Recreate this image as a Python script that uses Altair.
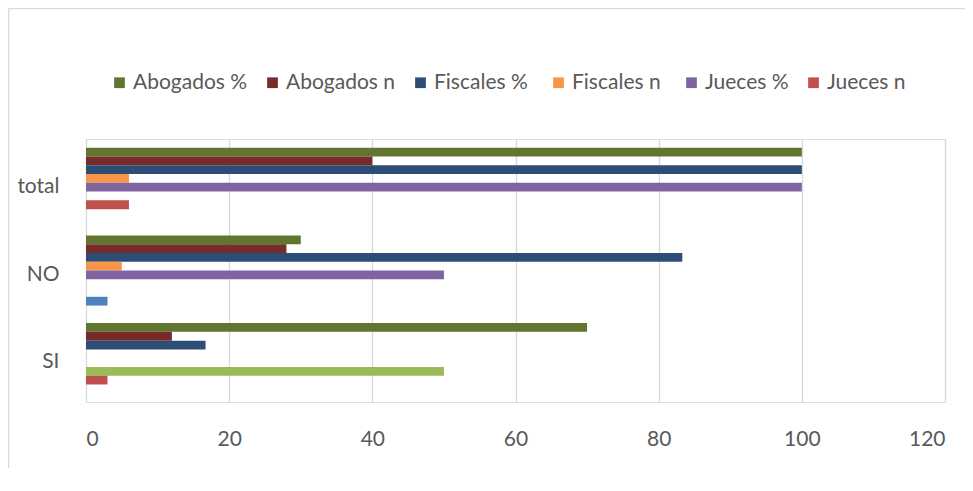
import altair as alt
import pandas as pd

categories = ["total", "NO", "SI"]

series_names = ["Abogados %", "Abogados n", "Fiscales  %", "Fiscales  n",
                "Jueces %", "Serie 6", "Jueces n", "Serie 8"]
legend_names = ["Abogados %", "Abogados n", "Fiscales  %", "Fiscales  n",
                "Jueces %", "Jueces n"]
colors = ["#5F7530", "#772C2A", "#2C4D75", "#F79646",
          "#8064A2", "#9BBB59", "#C0504D", "#4F81BD"]

abogados_pct = [100, 30, 70]
abogados_n = [40, 28, 12]
fiscales_pct = [100, 83.3, 16.7]
fiscales_n = [6, 5, None]
jueces_pct = [100, 50, None]
serie6 = [None, None, 50]
jueces_n = [6, None, 3]
serie8 = [None, 3, None]

series_values = [abogados_pct, abogados_n, fiscales_pct, fiscales_n,
                 jueces_pct, serie6, jueces_n, serie8]

rows = []
for name, vals in zip(series_names, series_values):
    for cat, v in zip(categories, vals):
        if v is not None:
            rows.append({"categoria": cat, "serie": name, "valor": v})
df = pd.DataFrame(rows)

FONT = "Lato"
GREY = "#595959"

W, H = 859, 263

frame_top = alt.Chart(alt.Data(values=[{}])).mark_rule(
    stroke="#D9D9D9", strokeWidth=1.5
).encode(
    x=alt.value(-77.5), x2=alt.value(W + 100),
    y=alt.value(-130.5)
)
frame_left = alt.Chart(alt.Data(values=[{}])).mark_rule(
    stroke="#D9D9D9", strokeWidth=1.5
).encode(
    x=alt.value(-77.5),
    y=alt.value(-130.5), y2=alt.value(H + 120)
)

bars = alt.Chart(df).mark_bar().encode(
    x=alt.X("valor:Q",
            scale=alt.Scale(domain=[0, 120], nice=False),
            axis=alt.Axis(values=[0, 20, 40, 60, 80, 100, 120], title=None,
                          domain=False, ticks=False, grid=True,
                          gridColor="#D9D9D9", gridWidth=1.3,
                          labelFont=FONT, labelFontSize=21, labelColor=GREY,
                          labelPadding=26)),
    y=alt.Y("categoria:N",
            scale=alt.Scale(domain=categories, paddingInner=0.2, paddingOuter=0.1),
            axis=alt.Axis(title=None, domain=False, ticks=False, grid=False,
                          labelFont=FONT, labelFontSize=21, labelColor=GREY,
                          labelPadding=27, labelOffset=4)),
    yOffset=alt.YOffset("serie:N",
                        scale=alt.Scale(domain=series_names, paddingInner=0,
                                        paddingOuter=0)),
    color=alt.Color("serie:N",
                    scale=alt.Scale(domain=series_names, range=colors),
                    legend=alt.Legend(title=None, values=legend_names,
                                      orient="none", legendX=23, legendY=-67,
                                      direction="horizontal", columns=6,
                                      symbolType="square", symbolSize=115,
                                      symbolStrokeWidth=0,
                                      labelFont=FONT, labelFontSize=21,
                                      labelColor=GREY, labelOffset=3,
                                      columnPadding=14, padding=0,
                                      labelLimit=300)),
)

chart = alt.layer(frame_top, frame_left, bars).properties(
    width=W, height=H,
    padding={"left": 78, "top": 131, "right": 20, "bottom": 66},
    autosize=alt.AutoSizeParams(type="none"),
).configure_view(stroke="transparent", strokeWidth=0).configure(background="white")

chart.save("out.html", embed_options={"renderer": "svg", "actions": False})
